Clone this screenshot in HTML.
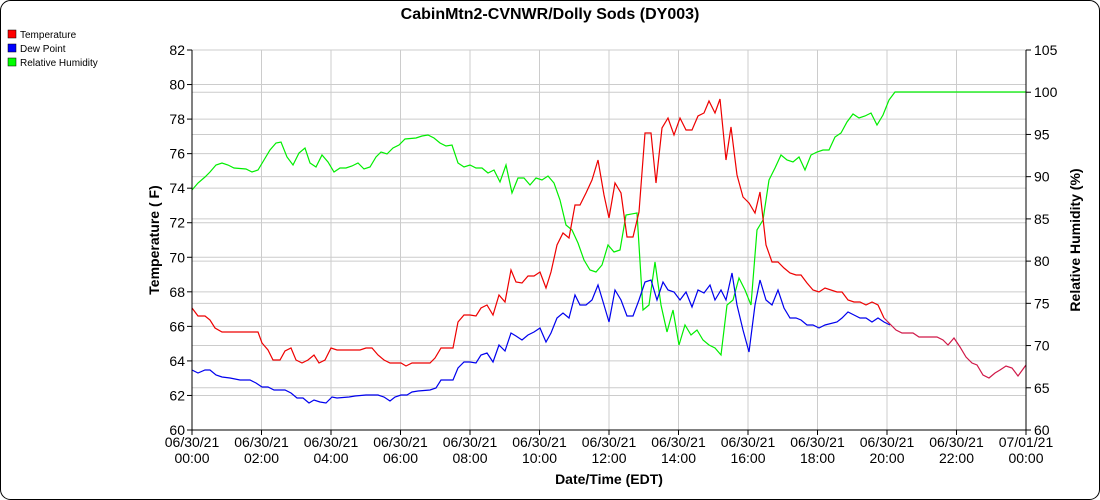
<!DOCTYPE html>
<html><head><meta charset="utf-8"><style>
html,body{margin:0;padding:0;background:#fff;}
svg{display:block;font-family:"Liberation Sans",Arial,sans-serif;}
</style></head><body>
<svg width="1100" height="500" viewBox="0 0 1100 500" xmlns="http://www.w3.org/2000/svg">
<rect x="0.5" y="0.5" width="1099" height="499" rx="10" ry="10" fill="#fff" stroke="#000" stroke-width="1"/>
<text x="550" y="19" text-anchor="middle" font-size="16" font-weight="bold">CabinMtn2-CVNWR/Dolly Sods (DY003)</text>
<rect x="8" y="30" width="8" height="8" fill="#f00" stroke="#000" stroke-width="0.5"/>
<text x="20" y="38" font-size="10">Temperature</text>
<rect x="8" y="44" width="8" height="8" fill="#00f" stroke="#000" stroke-width="0.5"/>
<text x="20" y="52" font-size="10">Dew Point</text>
<rect x="8" y="58" width="8" height="8" fill="#0f0" stroke="#000" stroke-width="0.5"/>
<text x="20" y="66" font-size="10">Relative Humidity</text>
<g id="grid" stroke="#cccccc" stroke-width="1">
</g>
<g id="lab" font-size="14"></g>
<g id="data" fill="none" stroke-width="1.2"></g>
<line x1="192" y1="50" x2="192" y2="430" stroke="#000"/>
<line x1="1026" y1="50" x2="1026" y2="430" stroke="#000"/>
<line x1="192" y1="430" x2="1026" y2="430" stroke="#000"/>
<text x="0" y="0" font-size="14" font-weight="bold" text-anchor="middle" transform="translate(159,240) rotate(-90)">Temperature ( F)</text>
<text x="0" y="0" font-size="14" font-weight="bold" text-anchor="middle" transform="translate(1080,240) rotate(-90)">Relative Humidity (%)</text>
<text x="609" y="484" font-size="14" font-weight="bold" text-anchor="middle">Date/Time (EDT)</text>
</svg>
<script>
var NS="http://www.w3.org/2000/svg",svg=document.querySelector('svg');
function el(t,a,p,txt){var e=document.createElementNS(NS,t);for(var k in a)e.setAttribute(k,a[k]);if(txt!=null)e.textContent=txt;(p||svg).appendChild(e);return e;}
var g=document.getElementById('grid'),lab=document.getElementById('lab');
for(var i=0;i<=11;i++){var y=430-i*380/11;if(i>0)el('line',{x1:192,x2:1026,y1:y,y2:y},g);
el('line',{x1:187,x2:192,y1:y,y2:y,stroke:'#000'});
el('text',{x:185,y:y+5,'text-anchor':'end','font-size':14},lab,String(60+2*i));}
for(var i=0;i<=9;i++){var y=430-i*380/9;if(i>0)el('line',{x1:192,x2:1026,y1:y,y2:y},g);
el('line',{x1:1026,x2:1031,y1:y,y2:y,stroke:'#000'});
el('text',{x:1034,y:y+5,'font-size':14},lab,String(60+5*i));}
for(var i=0;i<=12;i++){var x=192+i*834/12;if(i>0&&i<12)el('line',{x1:x,x2:x,y1:50,y2:430},g);
el('line',{x1:x,x2:x,y1:430,y2:435,stroke:'#000'});
var hh=(2*i)%24;el('text',{x:x,y:447,'text-anchor':'middle','font-size':14},lab,i==12?'07/01/21':'06/30/21');
el('text',{x:x,y:463,'text-anchor':'middle','font-size':14},lab,(hh<10?'0':'')+hh+':00');}
var d=document.getElementById('data');
function pl(pts,c){el('polyline',{points:pts,stroke:c},d);}
var rh="192,190 198,183 205,177 210,172 216,165 222,163 228,165 234,168 246,169 252,172 258,170 264,160 270,150 276,143 281,142 287,157 293,165 299,153 305,148 310,163 316,167 322,155 328,162 334,172 340,168 346,168 352,166 358,163 364,169 370,167 376,157 381,152 387,154 393,148 399,145 405,139 416,138 422,136 428,135 434,138 440,143 446,146 452,145 458,163 464,167 470,165 476,168 482,168 488,173 494,170 500,182 506,165 512,193 518,178 524,178 530,185 536,178 542,180 548,176 554,183 560,200 566,225 572,230 578,243 584,260 590,270 596,272 602,265 608,245 614,252 620,250 626,215 637,213 643,310 649,305 655,262 661,305 667,332 673,310 679,345 685,325 691,335 697,330 703,340 709,345 715,348 721,355 727,305 733,300 739,278 745,290 751,305 757,230 763,220 769,180 775,168 781,155 787,160 793,162 799,157 805,170 811,155 817,152 823,150 829,150 835,137 841,133 847,122 853,114 859,118 865,116 871,113 877,125 883,115 889,100 895,92 1026,92";
var dp="192,370 198,373 205,370 210,370 216,375 222,377 230,378 240,380 250,380 256,383 262,387 268,387 274,390 285,390 291,393 297,398 303,398 309,403 314,400 320,402 326,403 332,397 337,398 349,397 355,396 366,395 378,395 384,397 390,401 395,397 401,395 407,395 412,392 418,391 430,390 436,388 441,380 453,380 458,368 464,362 470,362 476,363 481,355 487,353 493,362 499,345 505,351 511,333 516,336 522,340 528,335 534,332 540,328 546,342 551,333 557,318 563,313 569,318 575,295 580,305 586,305 592,300 598,285 604,305 609,322 615,290 621,300 627,316 633,316 639,300 645,282 651,280 657,300 663,282 668,290 674,292 680,300 686,292 692,307 698,290 704,293 710,285 715,300 721,290 726,300 732,273 737,305 743,330 749,352 755,305 760,280 766,300 772,305 778,290 784,308 790,318 796,318 801,320 807,325 813,325 819,328 825,325 837,322 842,318 848,312 854,315 860,318 866,318 872,322 878,318 884,322 890,325";
var tp="192,308 198,316 205,316 210,320 215,328 222,332 258,332 262,343 268,350 273,360 280,360 285,351 291,348 296,360 302,363 308,360 314,355 319,363 325,360 331,348 337,350 360,350 366,348 372,348 378,355 384,360 390,363 401,363 406,366 412,363 430,363 435,358 441,348 453,348 458,322 464,315 470,315 476,316 481,308 487,305 493,315 499,295 505,302 511,270 516,282 522,283 528,276 534,276 540,272 546,288 551,272 557,245 563,233 569,238 575,205 580,205 586,193 592,180 598,160 604,195 609,218 615,183 621,193 627,237 633,237 639,212 645,133 651,133 656,183 662,128 668,118 674,135 680,118 686,130 692,130 698,116 704,113 709,101 715,113 720,99 726,160 731,127 737,175 743,197 749,203 755,213 760,192 766,245 772,262 778,262 784,268 790,273 796,275 801,275 807,283 813,290 819,292 825,288 837,292 842,292 848,300 854,302 860,302 866,305 872,302 878,305 884,318";
var tail="884,318 890,324 896,330 902,333 913,333 919,337 937,337 943,340 948,345 954,338 960,347 966,357 972,363 977,365 983,375 989,378 995,373 1000,370 1006,366 1012,368 1018,376 1026,365";
pl(rh,'#00ee00');pl(dp,'#0000ee');pl(tp,'#ee0000');pl(tail,'#d01848');
</script>
</body></html>
